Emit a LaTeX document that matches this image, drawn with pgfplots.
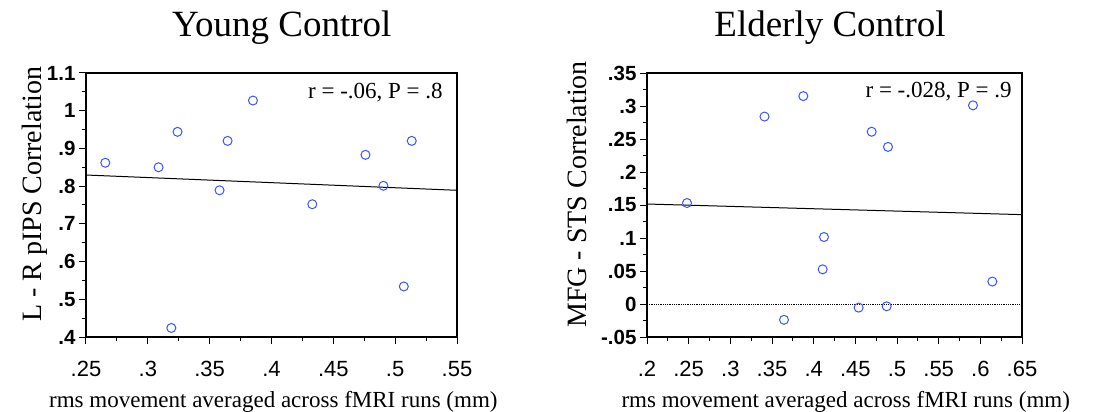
\documentclass[border=0pt]{standalone}
\usepackage{fontspec}
\setmainfont{Liberation Serif}
\newfontfamily\tsans{Liberation Sans}
\usepackage{pgfplots}
\pgfplotsset{compat=1.18}
\definecolor{ptblue}{RGB}{55,85,255}

\pgfplotsset{
 myax/.style={
  scale only axis, height=264bp,
  axis line style={line width=1.1bp},
  tick align=outside, xtick pos=bottom, ytick pos=left,
  major tick length=7bp, minor tick length=4bp,
  every tick/.style={black, line width=1bp},
  minor x tick num=1, minor y tick num=1,
  xticklabel style={font=\tsans\fontsize{22bp}{24bp}\selectfont, yshift=-14bp},
  yticklabel style={font=\tsans\bfseries\fontsize{20.5bp}{22bp}\selectfont},
  xlabel style={font=\fontsize{23bp}{25bp}\selectfont, anchor=center},
  ylabel style={font=\fontsize{28bp}{30bp}\selectfont, anchor=center},
  title style={font=\fontsize{37bp}{40bp}\selectfont, anchor=center},
  xlabel={rms movement averaged across fMRI runs (mm)},
 },
 pts/.style={only marks, mark=o, mark size=4.5bp, ptblue, mark options={line width=1bp}},
 reg/.style={black, line width=1bp, no marks},
}

\begin{document}
\begin{tikzpicture}
\useasboundingbox (-86bp,-75bp) rectangle (1008bp,337bp);
\begin{axis}[myax, width=371bp,
  xmin=0.25, xmax=0.55, ymin=0.4, ymax=1.1,
  xtick={0.25,0.3,0.35,0.4,0.45,0.5,0.55},
  xticklabels={.25,.3,.35,.4,.45,.5,.55},
  ytick={0.4,0.5,0.6,0.7,0.8,0.9,1.0,1.1},
  yticklabels={.4,.5,.6,.7,.8,.9,1,1.1},
  title={Young Control}, title style={at={(0.528,1.148)}},
  xlabel style={at={(axis description cs:0.505,-0.246)}},
  ylabel={L - R pIPS Correlation},
  ylabel style={at={(axis description cs:-0.137,0.54)}},
]
\addplot[reg] coordinates {(0.25,0.8295) (0.55,0.789)};
\addplot[pts] coordinates {
(0.2656,0.862) (0.3087,0.850) (0.324,0.944) (0.319,0.424) (0.358,0.789) (0.3645,0.920)
(0.385,1.027) (0.433,0.752) (0.476,0.883) (0.4905,0.801) (0.507,0.534) (0.5134,0.920)};
\node[anchor=east, font=\fontsize{23bp}{25bp}\selectfont, inner sep=0pt] at (axis description cs:0.962,0.924) {r = -.06, P = .8};
\end{axis}
\begin{axis}[myax, width=375bp, at={(561bp,0)},
  xmin=0.2, xmax=0.65, ymin=-0.05, ymax=0.35,
  xtick={0.2,0.25,0.3,0.35,0.4,0.45,0.5,0.55,0.6,0.65},
  xticklabels={.2,.25,.3,.35,.4,.45,.5,.55,.6,.65},
  ytick={-0.05,0,0.05,0.1,0.15,0.2,0.25,0.3,0.35},
  yticklabels={-.05,0,.05,.1,.15,.2,.25,.3,.35},
  title={Elderly Control}, title style={at={(0.488,1.148)}},
  xlabel style={at={(axis description cs:0.53,-0.246)}},
  ylabel={MFG - STS Correlation},
  ylabel style={at={(axis description cs:-0.187,0.54)}},
]
\addplot[black, densely dotted, line width=0.8bp, no marks] coordinates {(0.2,0) (0.65,0)};
\addplot[reg] coordinates {(0.2,0.1515) (0.65,0.1354)};
\addplot[pts] coordinates {
(0.248,0.153) (0.341,0.284) (0.3644,-0.024) (0.3876,0.315) (0.4108,0.0525) (0.4124,0.1015)
(0.454,-0.0055) (0.4696,0.261) (0.4876,-0.0035) (0.4892,0.238) (0.5912,0.301) (0.6144,0.034)};
\node[anchor=east, font=\fontsize{23bp}{25bp}\selectfont, inner sep=0pt] at (axis description cs:0.973,0.928) {r = -.028, P = .9};
\end{axis}
\end{tikzpicture}
\end{document}
